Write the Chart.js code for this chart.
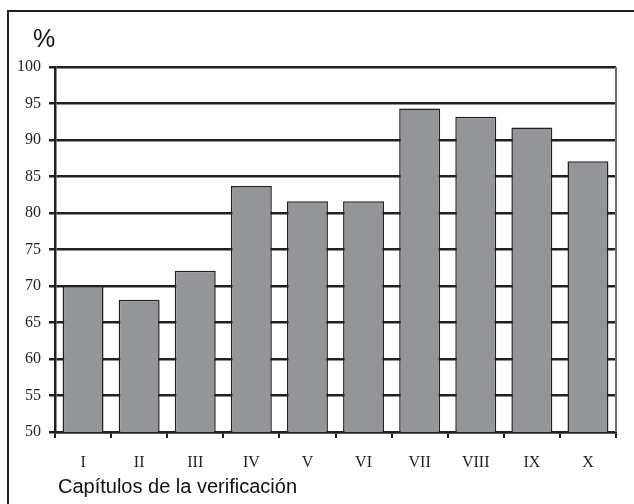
<!DOCTYPE html>
<html>
<head>
<meta charset="utf-8">
<script src="https://cdn.jsdelivr.net/npm/chart.js@4.4.0/dist/chart.umd.min.js"></script>
<style>
  html, body { margin: 0; padding: 0; background: #fff; }
  #wrap { width: 634px; height: 504px; position: relative; }
</style>
</head>
<body>
<div id="wrap"><canvas id="chart" width="634" height="504"></canvas></div>
<script>
const chapters = ['I', 'II', 'III', 'IV', 'V', 'VI', 'VII', 'VIII', 'IX', 'X'];
const percent = [70.0, 68.1, 72.1, 83.7, 81.6, 81.6, 94.3, 93.2, 91.7, 87.1];
const yMin = 50;
const yMax = 100;
const yStep = 5;
const yLabel = '%';
const xLabel = 'Capítulos de la verificación';

// frame, right border of plot and the two free-standing labels
const extras = {
    id: 'extras',
    afterDraw(chart) {
        const ctx = chart.ctx;
        const a = chart.chartArea;
        ctx.save();
        ctx.strokeStyle = '#231f20';
        ctx.lineWidth = 2;
        ctx.beginPath();
        ctx.moveTo(8, chart.height);
        ctx.lineTo(8, 11);
        ctx.lineTo(chart.width, 11);
        ctx.stroke();

        ctx.strokeStyle = '#6d6e71';
        ctx.lineWidth = 2;
        ctx.beginPath();
        ctx.moveTo(a.right, a.top);
        ctx.lineTo(a.right, a.bottom);
        ctx.stroke();

        ctx.fillStyle = '#111';
        ctx.font = '25px Arial, "Liberation Sans", sans-serif';
        ctx.textBaseline = 'alphabetic';
        ctx.textAlign = 'left';
        ctx.fillText(yLabel, 33, 47);
        ctx.font = '20px Arial, "Liberation Sans", sans-serif';
        ctx.fillText(xLabel, a.left + 3, a.bottom + 61);
        ctx.restore();
    }
};

const serif = '"Times New Roman", "Liberation Serif", serif';

new Chart(document.getElementById('chart'), {
    type: 'bar',
    data: {
        labels: chapters,
        datasets: [{
            data: percent,
            backgroundColor: '#939598',
            borderColor: '#231f20',
            borderWidth: 1.5,
            barPercentage: 0.73,
            categoryPercentage: 1
        }]
    },
    options: {
        responsive: false,
        animation: false,
        layout: { padding: { left: 8, right: 18, top: 67, bottom: 0 } },
        plugins: { legend: { display: false }, tooltip: { enabled: false } },
        scales: {
            x: {
                afterFit(scale) { scale.height = 72; },
                grid: { offset: true, drawOnChartArea: false, drawTicks: true, tickLength: 6, color: '#231f20', lineWidth: 2 },
                border: { display: true, color: '#231f20', width: 2.5 },
                ticks: { color: '#231f20', padding: 15, font: { family: serif, size: 16 } }
            },
            y: {
                min: yMin,
                max: yMax,
                afterFit(scale) { scale.width = 47; },
                grid: { color: '#231f20', lineWidth: 2.5, tickLength: 6, drawTicks: true },
                border: { display: true, color: '#231f20', width: 2.5 },
                ticks: { stepSize: yStep, color: '#231f20', padding: 8, font: { family: serif, size: 16 } }
            }
        }
    },
    plugins: [extras]
});
</script>
</body>
</html>
